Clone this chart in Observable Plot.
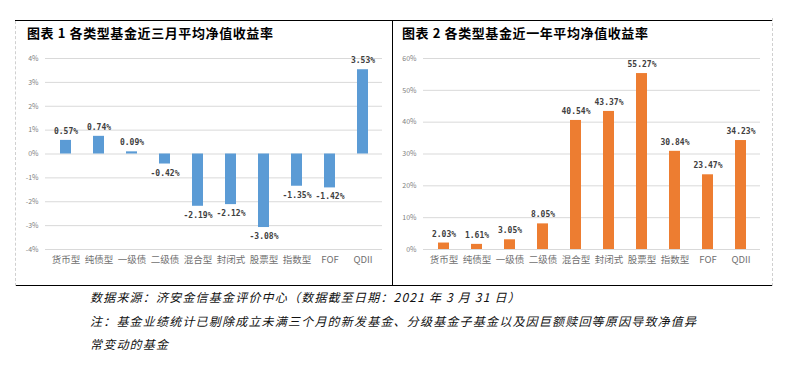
<!DOCTYPE html>
<html>
<head>
<meta charset="utf-8">
<script src="https://cdn.jsdelivr.net/npm/d3@7"></script>
<script src="https://cdn.jsdelivr.net/npm/@observablehq/plot@0.6"></script>
<style>
  html, body { margin: 0; padding: 0; background: #fff; }
  body { width: 801px; height: 365px; position: relative; overflow: hidden;
         font-family: "Noto Sans CJK SC", "Noto Sans", sans-serif; }
  .abs { position: absolute; }
  .hline { position: absolute; height: 0; border-top: 1.6px solid #000; }
  .vline { position: absolute; width: 0; border-left: 1.3px solid #000; }
  .dline { position: absolute; width: 0; border-left: 1px dashed #d0d0d0; }
  .title { position: absolute; font-size: 13px; font-weight: 700; color: #000; letter-spacing: 0.6px; white-space: nowrap; line-height: 1; }
  .cap { position: absolute; left: 90px; font-size: 12px; font-style: italic; color: #111; letter-spacing: 1.2px; white-space: nowrap; line-height: 1; }
  svg { overflow: visible; }
</style>
</head>
<body>
<div class="hline" style="left:15px; top:20px; width:757px;"></div>
<div class="hline" style="left:15px; top:285px; width:757px;"></div>
<div class="vline" style="left:392px; top:21px; height:265px;"></div>
<div class="dline" style="left:15px; top:21px; height:265px;"></div>
<div class="dline" style="left:772px; top:18px; height:268px;"></div>

<div class="title" style="left:27px; top:26px;">图表 1 各类型基金近三月平均净值收益率</div>
<div class="title" style="left:402px; top:26px;">图表 2 各类型基金近一年平均净值收益率</div>

<div id="left" class="abs" style="left:15px; top:21px;"></div>
<div id="right" class="abs" style="left:393px; top:21px;"></div>

<div class="cap" style="top:291px;">数据来源：济安金信基金评价中心（数据截至日期：2021 年 3 月 31 日）</div>
<div class="cap" style="top:315px;">注：基金业绩统计已剔除成立未满三个月的新发基金、分级基金子基金以及因巨额赎回等原因导致净值异</div>
<div class="cap" style="top:338px;">常变动的基金</div>

<script>
const categories = ["货币型", "纯债型", "一级债", "二级债", "混合型", "封闭式", "股票型", "指数型", "FOF", "QDII"];
const threeMonth = [0.57, 0.74, 0.09, -0.42, -2.19, -2.12, -3.08, -1.35, -1.42, 3.53];
const oneYear = [2.03, 1.61, 3.05, 8.05, 40.54, 43.37, 55.27, 30.84, 23.47, 34.23];
const leftTicks = [-4, -3, -2, -1, 0, 1, 2, 3, 4];
const rightTicks = [0, 10, 20, 30, 40, 50, 60];

function makeChart(values, ticks, domain, color, marginRight) {
  const data = categories.map((c, i) => ({cat: c, v: values[i]}));
  return Plot.plot({
    width: 378,
    height: 265,
    marginTop: 37,
    marginBottom: 37,
    marginLeft: 30,
    marginRight: marginRight,
    style: {background: "transparent", fontFamily: "'Noto Sans CJK SC', sans-serif"},
    x: {domain: categories, paddingInner: 0.67, paddingOuter: 0.335, label: null},
    y: {domain: domain, label: null},
    marks: [
      Plot.gridY(ticks, {stroke: "#d9d9d9", strokeOpacity: 1, strokeWidth: 1}),
      Plot.barY(data, {x: "cat", y: "v", fill: color}),
      Plot.text(data.filter(d => d.v >= 0), {x: "cat", y: "v", text: d => d.v.toFixed(2) + "%", dy: -9,
        fontSize: 8, fontWeight: 700, fill: "#404040", fontFamily: "'DejaVu Sans Mono', monospace"}),
      Plot.text(data.filter(d => d.v < 0), {x: "cat", y: "v", text: d => d.v.toFixed(2) + "%", dy: 9,
        fontSize: 8, fontWeight: 700, fill: "#404040", fontFamily: "'DejaVu Sans Mono', monospace"}),
      Plot.axisY({ticks: ticks, tickFormat: d => d + "%", tickSize: 0, tickPadding: 7, fontSize: 7, fill: "#808080", label: null}),
      Plot.axisX({tickSize: 0, tickPadding: 7, fontSize: 9.5, fill: "#707070", label: null})
    ]
  });
}

document.getElementById("left").appendChild(makeChart(threeMonth, leftTicks, [-4, 4], "#5B9BD5", 11));
document.getElementById("right").appendChild(makeChart(oneYear, rightTicks, [0, 60], "#ED7D31", 11));
</script>
</body>
</html>
